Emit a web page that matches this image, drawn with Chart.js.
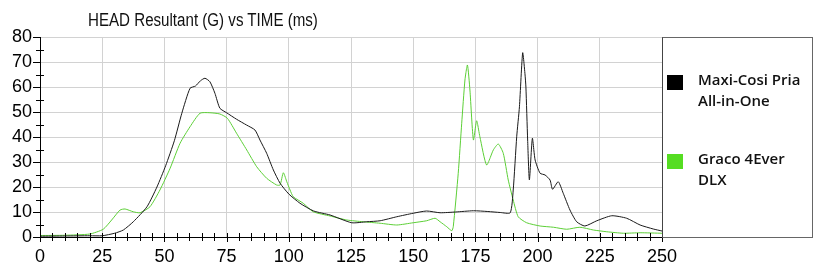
<!DOCTYPE html>
<html>
<head>
<meta charset="utf-8">
<script src="https://cdn.jsdelivr.net/npm/chart.js@4.4.1/dist/chart.umd.min.js"></script>
<style>
  body { margin: 0; background: #fff; }
  #wrap { position: relative; width: 830px; height: 272px; }
  #title {
    position: absolute; left: 88px; top: 10px;
    font: 18px "Liberation Sans", Arial, sans-serif; color: #111;
    transform: scaleX(0.84); transform-origin: left top; white-space: nowrap;
  }
  #legend {
    position: absolute; left: 662px; top: 37px; width: 149px; height: 199px;
    border: 1px solid #666; border-left-color: #444;
  }
  .item { position: absolute; left: 4px; font: 600 15px "Open Sans", sans-serif; color: #111; line-height: 21px; white-space: pre-line; }
  .swatch { position: absolute; left: 0; top: 3px; width: 16px; height: 15px; }
  .txt { position: absolute; left: 31px; top: -3px; width: 130px; }
</style>
</head>
<body>
<div id="wrap">
  <canvas id="myChart" width="830" height="272"></canvas>
  <div id="title"></div>
  <div id="legend"></div>
</div>
<script>
const chartTitle = 'HEAD Resultant (G) vs TIME (ms)';
const seriesNames = ['Maxi-Cosi Pria\nAll-in-One', 'Graco 4Ever\nDLX'];
const seriesColors = ['#1a1a1a', '#5ccf36'];
const legendColors = ['#000000', '#55dd22'];

// Maxi-Cosi Pria All-in-One
const maxiTime = [0,10,20,25,30,33.5,37.5,43,47,50.5,54,57,60.3,62.5,64.5,66.3,68.3,70.3,72.3,75,79,83,86.4,88.4,91.1,93.8,96.5,100,104.5,110,116.6,125.3,131.3,136.7,143.4,150,155.4,160.8,167,174.2,180,185,189,190.2,191.6,192.7,194,194.9,195.3,196,196.7,197.9,199,201,203,205,206,208.3,210.3,213,215.7,219,223.8,229.8,235.8,241.2,246.5,250];
const maxiG = [0.3,0.4,0.5,0.5,1.5,2.8,6.1,12.1,20,28.5,38.5,49.5,59.5,60.4,62.5,63.5,62.1,57.5,51.5,49.7,47.1,44.8,42.8,38.8,33.5,26.8,21.5,17.2,13.5,10.4,8.8,5.7,6.1,6.5,8.1,9.5,10.4,9.7,10,10.5,10.2,9.8,9.7,18.8,40.1,52.1,73.7,65.5,60,38.8,22.8,39.5,30.8,25.5,24.8,22.8,19.1,22.1,17.5,10.8,6.1,4.4,6.5,8.5,7.5,4.8,3.2,2.4];

// Graco 4Ever DLX
const gracoTime = [0,10,20,25.4,28.8,32.2,34.2,37.5,40.2,44.2,48.2,52.3,56.3,60.3,64.3,68.3,72.3,75.3,79,83.1,87.1,91.1,95.1,96.5,97.8,99.2,100.5,101.8,105.8,109.8,116.6,123.3,129.9,136.7,143.4,150,155.4,158.8,160.8,163.5,165.5,166.1,168.1,169.5,170.8,171.8,172.8,174.2,175.5,176.8,179.5,182.2,184.2,186.2,188.2,190.2,192.2,195.6,201,206.4,211.7,217,222.4,227.8,234.5,241.2,250];
const gracoG = [0.6,0.7,1.2,3.1,6.8,10.8,11.2,10.1,9.7,12.1,18.8,27.5,37.5,44.1,49.5,49.7,49.2,47.5,41.5,34.8,28.1,23.5,20.8,20.8,25.7,22.1,18.8,16.1,13.5,10.1,8.4,6.8,6.1,5.5,4.8,5.7,6.5,7.5,6.1,4.1,2.5,4.1,25.5,45.5,62.8,68.8,58.8,38.8,46.5,40.1,28.8,34.8,37.2,33.5,22.8,14.8,8.1,5.7,4.4,3.9,3.1,3.9,2.8,2.1,1.5,1.7,1.5];

const xMin = 0, xMax = 250, xStep = 25, xMinorStep = 5;
const yMin = 0, yMax = 80, yStep = 10, yMinorStep = 5;

const toPoints = (xs, ys) => xs.map((x, i) => ({x: x, y: ys[i]}));

document.getElementById('title').textContent = chartTitle;
const legend = document.getElementById('legend');
const legendTops = [34, 113];
seriesNames.forEach((name, i) => {
    const item = document.createElement('div');
    item.className = 'item';
    item.style.top = legendTops[i] + 'px';
    item.innerHTML = '<div class="swatch" style="background:' + legendColors[i] + '"></div><div class="txt"></div>';
    item.querySelector('.txt').textContent = name;
    legend.appendChild(item);
});

// tick marks crossing the axes, major + minor
const tickMarks = {
    id: 'tickMarks',
    afterDraw(chart) {
        const {ctx, chartArea, scales} = chart;
        ctx.save();
        ctx.strokeStyle = '#000';
        ctx.lineWidth = 1;
        ctx.beginPath();
        for (let v = xMin; v <= xMax; v += xMinorStep) {
            const px = Math.round(scales.x.getPixelForValue(v)) + 0.5;
            const major = v % xStep === 0;
            ctx.moveTo(px, chartArea.bottom - 4);
            ctx.lineTo(px, chartArea.bottom + (major ? 5 : 4));
        }
        for (let v = yMin; v <= yMax; v += yMinorStep) {
            const py = Math.round(scales.y.getPixelForValue(v)) + 0.5;
            if (v % yStep === 0) {
                ctx.moveTo(chartArea.left - 7, py);
                ctx.lineTo(chartArea.left, py);
            } else {
                ctx.moveTo(chartArea.left - 4, py);
                ctx.lineTo(chartArea.left + 4, py);
            }
        }
        ctx.stroke();
        ctx.restore();
    }
};

const ctx = document.getElementById('myChart');
const myChart = new Chart(ctx, {
    type: 'line',
    data: {
        datasets: [{
            label: seriesNames[0],
            data: toPoints(maxiTime, maxiG),
            borderColor: seriesColors[0],
            borderWidth: 1,
            pointRadius: 0,
            tension: 0.2
        }, {
            label: seriesNames[1],
            data: toPoints(gracoTime, gracoG),
            borderColor: seriesColors[1],
            borderWidth: 1,
            pointRadius: 0,
            tension: 0.2
        }]
    },
    options: {
        responsive: false,
        animation: false,
        layout: { padding: { top: 37, right: 168, left: 0, bottom: 0 } },
        plugins: { legend: { display: false }, tooltip: { enabled: false } },
        scales: {
            x: {
                type: 'linear',
                min: xMin, max: xMax,
                afterFit: (s) => { s.height = 35; },
                ticks: { stepSize: xStep, padding: 9, color: '#000', font: { family: 'Liberation Sans', size: 18 } },
                grid: { color: '#d2d2d2', drawTicks: false },
                border: { color: '#000' }
            },
            y: {
                min: yMin, max: yMax,
                afterFit: (s) => { s.width = 40; },
                ticks: { stepSize: yStep, padding: 8, color: '#000', font: { family: 'Liberation Sans', size: 18 } },
                grid: { color: '#d2d2d2', drawTicks: false },
                border: { color: '#000' }
            }
        }
    },
    plugins: [tickMarks]
});
</script>
</body>
</html>
